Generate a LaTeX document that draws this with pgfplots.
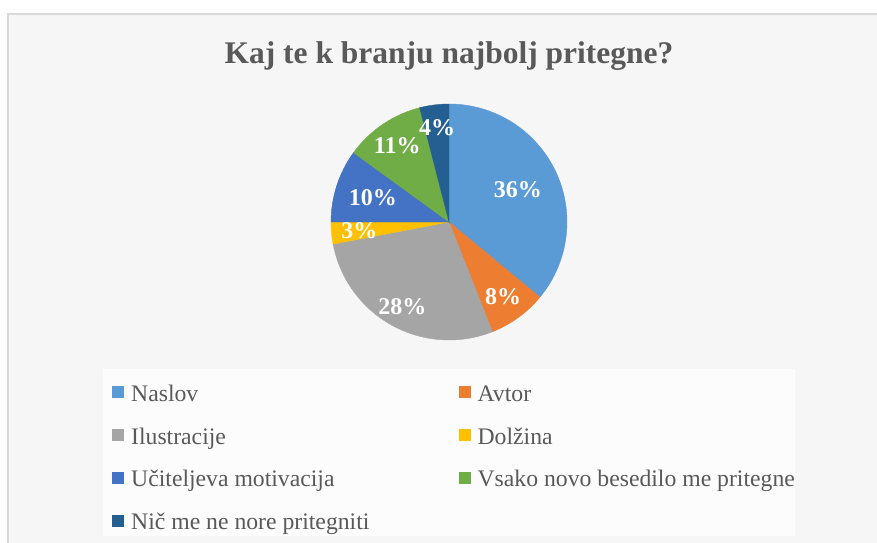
\documentclass[border=0pt]{standalone}
\usepackage{pgfplots}
\pgfplotsset{compat=1.18}
\usepackage{pgfplotstable}
\usepackage{fontspec}
\setmainfont{Liberation Serif}

\definecolor{c0}{HTML}{5B9BD5}
\definecolor{c1}{HTML}{ED7D31}
\definecolor{c2}{HTML}{A5A5A5}
\definecolor{c3}{HTML}{FFC000}
\definecolor{c4}{HTML}{4472C4}
\definecolor{c5}{HTML}{70AD47}
\definecolor{c6}{HTML}{255E91}
\definecolor{txtgray}{HTML}{595959}
\definecolor{bordergray}{HTML}{D9D9D9}
\definecolor{bggray}{HTML}{F6F6F6}
\definecolor{legendbg}{HTML}{FCFCFC}

% x y = pie centre, pct = share, start = cumulative share before the slice
% (from 12 o'clock, clockwise), lr = label radius in pt
\pgfplotstableread{
x y idx pct start lr
0 0 0 36 0  76
0 0 1 8  36 92
0 0 2 28 44 97
0 0 3 3  72 90
0 0 4 10 75 80
0 0 5 11 85 92
0 0 6 4  96 95
}\piedata

\pgfplotsset{
  pieread/.style={
    forget plot, scatter, only marks, mark=*, mark size=0pt,
    mark options={draw=none, fill=none},
    visualization depends on={\thisrow{idx} \as \sliceidx},
    visualization depends on={\thisrow{pct} \as \slicepct},
    visualization depends on={\thisrow{start} \as \slicestart},
    visualization depends on={\thisrow{lr} \as \slicelr},
    scatter/@post marker code/.code={},
  },
}

\begin{document}
\begin{tikzpicture}[x=1pt,y=1pt]
\path[use as bounding box] (0,0) rectangle (877,542);
\draw[draw=bordergray, line width=1.5pt, fill=bggray] (8,528) rectangle (900,-20);
\fill[legendbg] (103,6) rectangle (795,173);
\node[anchor=base, text=txtgray, font=\bfseries\fontsize{31.5}{38}\selectfont]
  at (449,478) {Kaj te k branju najbolj pritegne?};

\begin{axis}[
  at={(449pt,320pt)}, anchor=center,
  width=236pt, height=236pt, scale only axis,
  xmin=-1, xmax=1, ymin=-1, ymax=1,
  hide axis, clip=false,
  legend columns=2,
  legend image code/.code={\fill[#1, draw=none] (0pt,3pt) rectangle (12pt,15pt);},
  legend style={
    at={(-0.928,-0.178)}, anchor=north west,
    draw=none, fill=none, inner sep=0pt, row sep=20.3pt,
    font=\fontsize{23.7}{28}\selectfont, text=txtgray,
    cells={anchor=base west, inner sep=0pt, text height=17pt, text depth=5pt},
    /tikz/every odd column/.append style={column sep=5pt},
    /tikz/every even column/.append style={column sep=87.2pt},
  },
]
% slices
\addplot[pieread,
  scatter/@pre marker code/.code={%
    \pgfmathtruncatemacro\ci{\sliceidx}%
    \pgfmathsetmacro\sa{90-3.6*\slicestart}%
    \pgfmathsetmacro\sd{-3.6*\slicepct}%
    \fill[c\ci] (0pt,0pt) -- (\sa:118pt)
      arc[start angle=\sa, delta angle=\sd, radius=118pt] -- cycle;
  },
] table[x=x, y=y] {\piedata};
% percentage labels
\addplot[pieread,
  scatter/@pre marker code/.code={%
    \pgfmathsetmacro\sm{90-3.6*(\slicestart+\slicepct/2)}%
    \pgfmathtruncatemacro\pv{\slicepct}%
    \node[text=white, font=\bfseries\fontsize{24}{28}\selectfont]
      at (\sm:\slicelr pt) {\pv\%};
  },
] table[x=x, y=y] {\piedata};

\addlegendimage{fill=c0}\addlegendentry{Naslov}
\addlegendimage{fill=c1}\addlegendentry{Avtor}
\addlegendimage{fill=c2}\addlegendentry{Ilustracije}
\addlegendimage{fill=c3}\addlegendentry{Dolžina}
\addlegendimage{fill=c4}\addlegendentry{Učiteljeva motivacija}
\addlegendimage{fill=c5}\addlegendentry{Vsako novo besedilo me pritegne}
\addlegendimage{fill=c6}\addlegendentry{Nič me ne nore pritegniti}
\end{axis}
\end{tikzpicture}
\end{document}
